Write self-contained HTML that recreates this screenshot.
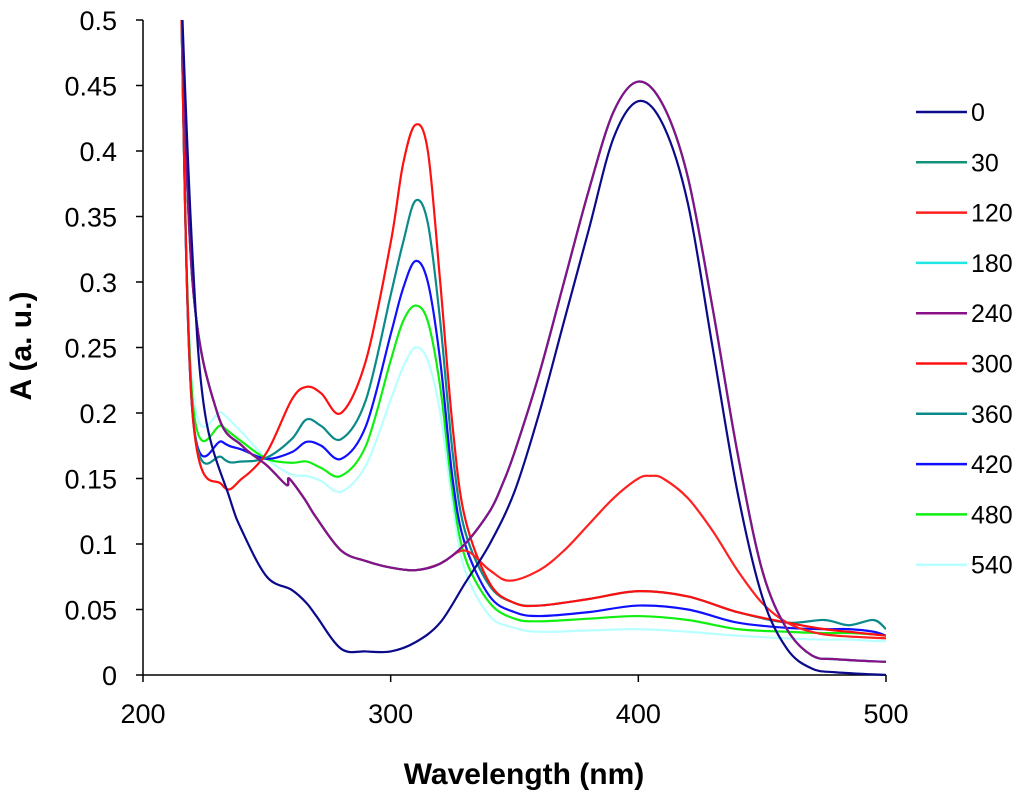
<!DOCTYPE html>
<html><head><meta charset="utf-8"><style>
body{margin:0;background:#fff;}
svg{display:block;font-family:"Liberation Sans",Arial,sans-serif;}
</style></head><body>
<svg id="chart" width="1024" height="799">
<defs><clipPath id="plotclip"><rect x="143" y="20" width="743" height="656"/></clipPath></defs>
<g id="axes"></g>
<g id="series" clip-path="url(#plotclip)"></g>
<g id="legend"></g>
<text x="10" y="346" transform="rotate(-90 10 346)" text-anchor="middle" font-size="30" font-weight="bold" dominant-baseline="hanging">A (a. u.)</text>
<text x="524" y="784" text-anchor="middle" font-size="30" font-weight="bold">Wavelength (nm)</text>
</svg>
<script>
const labels=["0","30","120","180","240","300","360","420","480","540"];
const colors=["#0a0a8a","#12917a","#ff2020","#20e6e6","#8a108a","#ff1010","#0a8a8a","#1010ff","#10f010","#b8ffff"];
const xTicks=[200,300,400,500];
const yTicks=[0,0.05,0.1,0.15,0.2,0.25,0.3,0.35,0.4,0.45,0.5];
const wlA=[213,215,220,225,235,240,250,260,266,270,280,290,300,310,320,330,340,350,360,370,380,390,400,410,420,430,440,450,460,470,480,500];
const s0=[0.7,0.55,0.32,0.2,0.135,0.11,0.075,0.065,0.055,0.045,0.02,0.018,0.018,0.025,0.04,0.07,0.1,0.14,0.2,0.27,0.34,0.41,0.438,0.42,0.36,0.25,0.14,0.06,0.02,0.005,0.002,0];
const wlB=[213,215,220,230,240,250,258,259,265,270,280,290,300,310,320,330,340,345,350,360,370,380,390,400,410,420,430,440,450,460,470,480,500];
const sB=[0.7,0.55,0.3,0.2,0.175,0.16,0.145,0.15,0.135,0.12,0.095,0.087,0.082,0.08,0.085,0.1,0.125,0.145,0.17,0.23,0.3,0.37,0.43,0.453,0.435,0.38,0.28,0.17,0.08,0.035,0.015,0.012,0.01];
const wl120=[213,215,220,230,240,250,258,259,265,270,280,290,300,310,320,330,340,348,360,370,380,390,400,405,410,420,430,440,450,460,470,480,500];
const s120=[0.7,0.55,0.3,0.2,0.175,0.16,0.145,0.15,0.135,0.12,0.095,0.087,0.082,0.08,0.085,0.095,0.08,0.072,0.08,0.095,0.115,0.135,0.15,0.152,0.15,0.135,0.11,0.08,0.055,0.04,0.033,0.03,0.028];
const wlC=[213,215,220,232,240,250,260,266,272,280,290,300,305,310,315,320,325,330,340,350,360,380,400,420,440,460,475,485,495,500];
const s300=[0.7,0.55,0.2,0.145,0.15,0.17,0.21,0.22,0.215,0.2,0.24,0.33,0.39,0.42,0.4,0.3,0.19,0.12,0.07,0.055,0.053,0.058,0.064,0.06,0.048,0.04,0.035,0.033,0.031,0.03];
const s360=[0.7,0.55,0.2,0.166,0.163,0.166,0.18,0.195,0.19,0.18,0.21,0.29,0.33,0.362,0.345,0.27,0.17,0.11,0.068,0.055,0.053,0.058,0.064,0.06,0.048,0.04,0.042,0.038,0.042,0.035];
const s420=[0.7,0.55,0.2,0.178,0.172,0.165,0.17,0.178,0.175,0.165,0.19,0.26,0.295,0.316,0.3,0.24,0.15,0.1,0.06,0.048,0.045,0.048,0.053,0.05,0.04,0.036,0.035,0.035,0.033,0.03];
const s480=[0.7,0.55,0.21,0.19,0.178,0.165,0.162,0.163,0.158,0.152,0.175,0.24,0.27,0.282,0.27,0.22,0.14,0.09,0.055,0.043,0.041,0.043,0.045,0.042,0.035,0.033,0.032,0.032,0.031,0.03];
const s540=[0.7,0.55,0.22,0.2,0.185,0.165,0.153,0.152,0.148,0.14,0.16,0.21,0.235,0.25,0.24,0.2,0.13,0.08,0.045,0.036,0.033,0.034,0.035,0.033,0.03,0.028,0.027,0.027,0.026,0.026];
const seriesX=[wlA,wlB,wl120,wlB,wlB,wlC,wlC,wlC,wlC,wlC];
const seriesY=[s0,sB,s120,sB,sB,s300,s360,s420,s480,s540];
const X0=143,X1=886,Y0=675,Y1=20;
const sx=v=>X0+(v-200)/300*(X1-X0);
const sy=v=>Y0-(v/0.5)*(Y0-Y1);
const NS="http://www.w3.org/2000/svg";
const axes=document.getElementById('axes');
function mk(tag,attrs,parent){const e=document.createElementNS(NS,tag);for(const k in attrs)e.setAttribute(k,attrs[k]);parent.appendChild(e);return e;}
let a=mk('line',{x1:X0,y1:Y1,x2:X0,y2:Y0,stroke:'#000','stroke-width':1.5},axes);


a=mk('line',{x1:X0,y1:Y0,x2:X1,y2:Y0,stroke:'#000','stroke-width':1.5},axes);


yTicks.forEach(v=>{const y=sy(v);
mk('line',{x1:X0-7,y1:y,x2:X0,y2:y,stroke:'#000','stroke-width':1.5},axes);
const t=mk('text',{x:X0-26,y:y+10,'text-anchor':'end','font-size':27},axes);t.textContent=String(v);

});
xTicks.forEach(v=>{const x=sx(v);
mk('line',{x1:x,y1:Y0,x2:x,y2:Y0+7,stroke:'#000','stroke-width':1.5},axes);
const t=mk('text',{x:x,y:Y0+48,'text-anchor':'middle','font-size':27},axes);t.textContent=String(v);

});
const sg=document.getElementById('series');
function smooth(pts){let d='M'+pts[0][0]+','+pts[0][1];for(let i=0;i<pts.length-1;i++){const p0=pts[i-1]||pts[i],p1=pts[i],p2=pts[i+1],p3=pts[i+2]||p2;
d+=' C'+(p1[0]+(p2[0]-p0[0])/6)+','+(p1[1]+(p2[1]-p0[1])/6)+' '+(p2[0]-(p3[0]-p1[0])/6)+','+(p2[1]-(p3[1]-p1[1])/6)+' '+p2[0]+','+p2[1];}return d;}
const order=[9,8,7,6,5,2,3,1,4,0];
order.forEach(i=>{const pts=seriesX[i].map((w,j)=>[sx(w),sy(seriesY[i][j])]);
const p=mk('path',{d:smooth(pts),fill:'none',stroke:colors[i],'stroke-width':2.2},sg);

});
const lg=document.getElementById('legend');


labels.forEach((l,i)=>{const y=112+i*50.3;
const g=mk('g',{},lg);


mk('line',{x1:916,y1:y,x2:967,y2:y,stroke:colors[i],'stroke-width':2.5},g);
const t=mk('text',{x:971,y:y+9,'font-size':25},g);t.textContent=l;});
</script>
</body></html>
